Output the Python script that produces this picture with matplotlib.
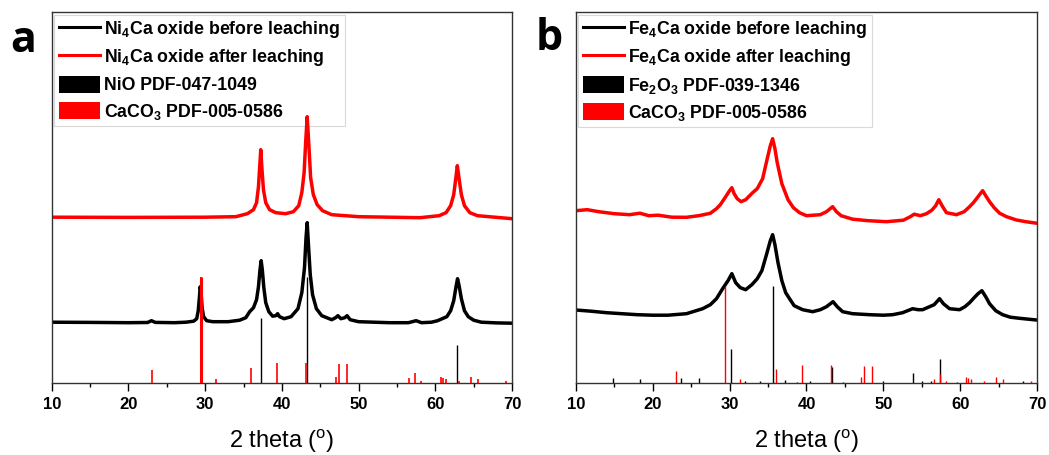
import matplotlib
matplotlib.use('Agg')
import matplotlib.pyplot as plt
import numpy as np
from matplotlib.lines import Line2D
from matplotlib.patches import Patch

plt.rcParams['font.family'] = ['Liberation Sans', 'DejaVu Sans']
plt.rcParams['mathtext.default'] = 'regular'

# ---- panel a : Ni4Ca oxide ----
a_before_x = [10, 15, 20, 22.5, 23.0, 23.5, 26, 27.5, 28.5, 28.9, 29.1, 29.25, 29.35, 29.45, 29.6, 29.8,
              30.2, 31, 33, 34.5, 35.3, 35.8, 36.3, 36.7, 36.95, 37.15, 37.3, 37.45, 37.65, 37.9, 38.3,
              38.8, 39.2, 39.45, 39.7, 40.3, 41.2, 42.1, 42.6, 42.95, 43.15, 43.3, 43.45, 43.7, 44.0,
              44.5, 45.2, 46.5, 47.0, 47.3, 47.7, 48.2, 48.5, 48.9, 50, 54, 56.5, 57.5, 58.2, 59.5,
              60.3, 60.9, 61.5, 62.0, 62.4, 62.7, 62.9, 63.1, 63.4, 63.8, 64.3, 65, 66, 68, 70]
a_before_y = [60.5, 60.3, 60, 60.2, 62, 60.3, 60, 60.5, 61.5, 64, 72, 85, 96, 92, 75, 66,
              62, 61, 61, 62.5, 65, 71, 75, 83, 96, 113, 122, 113, 95, 80, 71,
              66.5, 67, 69, 66, 64, 66, 74, 90, 115, 145, 160, 140, 108, 88,
              74, 67, 63, 65, 67, 64, 65, 67, 63, 61, 60, 60, 62, 60, 60.5,
              62, 64, 66, 72, 82, 96, 104, 97, 84, 72, 66, 62.5, 60.5, 59.8, 59.5]

a_after_x = [10, 20, 30, 34, 35.5, 36.3, 36.7, 36.95, 37.1, 37.25, 37.4, 37.6, 37.9, 38.4, 39.2,
             40.5, 41.5, 42.2, 42.6, 42.9, 43.1, 43.3, 43.5, 43.75, 44.1, 44.6, 45.3, 46.5, 50, 58,
             60.5, 61.4, 62.0, 62.4, 62.65, 62.87, 63.1, 63.4, 63.8, 64.5, 65.5, 70]
a_after_y = [165.5, 165.3, 165.5, 166, 169, 173, 180, 196, 215, 233, 214, 193, 180, 173, 170,
             169, 171, 177, 190, 210, 240, 266, 240, 205, 188, 178, 172, 168, 166, 165,
             167, 170, 177, 188, 203, 217, 204, 188, 177, 170, 167, 164]

# ---- panel b : Fe4Ca oxide ----
b_before_x = [10, 12, 14, 16, 18, 20, 22, 24.4, 26.5, 27.5, 28.3, 29.1, 29.8, 30.3, 30.8, 31.4,
              32.1, 32.9, 33.6, 34.2, 34.8, 35.3, 35.6, 35.9, 36.3, 36.8, 37.3, 37.8, 38.4, 39.5,
              40.8, 41.8, 42.6, 43.45, 44.0, 44.7, 46, 48.2, 50, 51.2, 52.5, 53.8, 54.5, 55.1,
              56.0, 56.6, 57.3, 57.8, 58.6, 59.9, 60.6, 61.2, 61.8, 62.3, 62.8, 63.3, 63.8, 64.6,
              65.5, 66.5, 67.7, 69.9, 70]
b_before_y = [72.7, 71.5, 70, 69, 68, 67.5, 67.5, 69, 74, 78, 84, 94, 102, 109, 100, 95,
              93, 98, 104, 112, 128, 142, 148, 138, 120, 102, 90, 84, 77, 73,
              71, 73, 76, 81, 76, 71, 69, 68, 67.5, 68, 70, 74, 73, 73,
              76, 78, 84, 79, 74, 73, 76, 80, 85, 89, 92, 86, 79, 72,
              68, 65.5, 64.4, 62.7, 62.5]

b_after_x = [10, 11.5, 13, 15, 17, 18.35, 19.5, 20.7, 22.5, 24.4, 26, 27.5,
             28.3, 28.8, 29.5, 30.0, 30.3, 30.6, 31.0, 31.5, 32.1, 33.0, 33.6, 34.3, 34.9, 35.3,
             35.6, 35.9, 36.2, 36.8, 37.6, 38.3, 39.1, 40.0, 41.8, 42.6, 43.4, 43.9, 44.5, 46.0,
             48, 50.4, 52.6, 53.5, 54.0, 54.8, 55.6, 56.3, 56.8, 57.2, 57.7, 58.2, 59.5, 60.5,
             61.2, 61.7, 62.1, 62.5, 62.9, 63.3, 63.8, 64.4, 65.1, 66, 67.3, 68.5, 70]
b_after_y = [172, 173, 171, 169, 168, 169.5, 167, 167.5, 165.5, 165.4, 167, 169.4,
             174, 178, 186, 192, 195, 189, 184, 181, 183, 190, 194, 204, 224, 237,
             244, 234, 220, 199, 183, 175, 170, 167, 168, 171, 176, 171, 167, 163.5,
             162, 161, 162.5, 166, 168.5, 167, 169, 172.5, 177, 183, 176, 170, 168, 171,
             176, 180, 184, 188, 192, 187, 181, 175, 169.5, 166, 162.7, 161, 159.4]

# ---- reference patterns (2theta, relative intensity %) ----
nio_pos = [37.25, 43.28, 62.88]
nio_int = [61, 100, 36]

fe2o3_pos = [14.9, 18.35, 23.7, 26.0, 30.2, 32.0, 33.9, 35.6, 37.2, 38.8, 40.4, 43.3, 44.7,
             50.0, 53.8, 55.0, 56.2, 57.35, 59.6, 68.2]
fe2o3_int = [5, 4, 5, 5, 35, 2, 2, 100, 3, 1, 1.5, 16, 1, 2, 10, 2, 2, 24, 1, 1.5]

caco3_pos = [23.05, 29.4, 31.4, 36.0, 39.4, 43.15, 47.1, 47.5, 48.5, 56.6, 57.4, 58.1,
             60.7, 61.0, 61.4, 63.1, 64.7, 65.6, 69.2]
caco3_int = [12, 100, 3.5, 14, 18.5, 18.5, 5.5, 17.5, 17.5, 4, 9, 2, 5.5, 4.5, 3.5, 2, 5.5, 3.5, 1.5]

xticks = [10, 20, 30, 40, 50, 60, 70]

fig = plt.figure(figsize=(10.49, 4.55), dpi=100)
ax_a = fig.add_axes([0.0493, 0.1589, 0.4388, 0.8141])
ax_b = fig.add_axes([0.5488, 0.1589, 0.4400, 0.8141])


def style_axes(ax):
    ax.set_xlim(10, 70)
    ax.set_ylim(0, 370.4)
    ax.set_xticks(xticks)
    ax.set_xticks(np.arange(15, 70, 10), minor=True)
    ax.set_yticks([])
    ax.tick_params(axis='x', which='major', direction='out', length=6, width=1, pad=4,
                   labelsize=12, top=False)
    ax.tick_params(axis='x', which='minor', direction='out', length=3, width=1, top=False)
    for lab in ax.get_xticklabels():
        lab.set_fontweight('bold')
    for sp in ax.spines.values():
        sp.set_color('#333333')
        sp.set_linewidth(1)
    ax.set_xlabel(r'2 theta ($\mathregular{^o}$)', fontsize=17, labelpad=12)


# panel a
ax_a.plot(a_before_x, a_before_y, color='black', lw=2.5)
ax_a.plot(a_after_x, a_after_y, color='red', lw=2.5)
ax_a.vlines(nio_pos, 0, np.array(nio_int) * 1.06, colors='black', lw=1, zorder=3)
ax_a.vlines(caco3_pos, 0, np.array(caco3_int) * 1.06, colors='red', lw=1.2, zorder=3)
ax_a.vlines([29.4], 0, [106], colors='red', lw=2.2, zorder=3)
style_axes(ax_a)

# panel b
ax_b.plot(b_before_x, b_before_y, color='black', lw=2.5)
ax_b.plot(b_after_x, b_after_y, color='red', lw=2.5)
ax_b.vlines(fe2o3_pos, 0, np.array(fe2o3_int) * 0.97, colors='black', lw=1, zorder=3)
ax_b.vlines(caco3_pos, 0, np.array(caco3_int) * 0.97, colors='red', lw=1, zorder=3)
style_axes(ax_b)

# legends
legend_a = [Line2D([], [], color='black', lw=2.2, label=r'Ni$_4$Ca oxide before leaching'),
            Line2D([], [], color='red', lw=2.2, label=r'Ni$_4$Ca oxide after leaching'),
            Patch(facecolor='black', label='NiO PDF-047-1049'),
            Patch(facecolor='red', label=r'CaCO$_3$ PDF-005-0586')]
legend_b = [Line2D([], [], color='black', lw=2.2, label=r'Fe$_4$Ca oxide before leaching'),
            Line2D([], [], color='red', lw=2.2, label=r'Fe$_4$Ca oxide after leaching'),
            Patch(facecolor='black', label=r'Fe$_2$O$_3$ PDF-039-1346'),
            Patch(facecolor='red', label=r'CaCO$_3$ PDF-005-0586')]

for ax, handles in [(ax_a, legend_a), (ax_b, legend_b)]:
    leg = ax.legend(handles=handles, loc='upper left', bbox_to_anchor=(0.006, 0.993),
                    borderaxespad=0, prop={'weight': 'bold', 'size': 12.8},
                    handlelength=2.3, handleheight=1.15, handletextpad=0.25,
                    labelspacing=0.4, borderpad=0.25, fancybox=False, framealpha=1)
    leg.get_frame().set_edgecolor('#d9d9d9')
    leg.get_frame().set_linewidth(0.8)
    leg.set_zorder(1)

# panel letters
fig.text(10 / 1049, 1 - 52.5 / 455, 'a', fontsize=31, fontweight='bold', family='Open Sans',
         va='baseline', ha='left')
fig.text(536 / 1049, 1 - 50 / 455, 'b', fontsize=31, fontweight='bold', family='Open Sans',
         va='baseline', ha='left')

plt.savefig('out.png', dpi=100)
